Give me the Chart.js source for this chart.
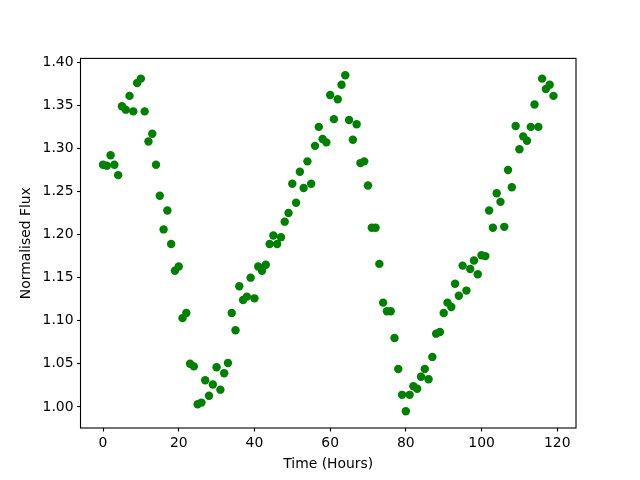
<!DOCTYPE html>
<html>
<head>
<meta charset="utf-8">
<script src="https://cdn.jsdelivr.net/npm/chart.js@4/dist/chart.umd.min.js"></script>
<style>
  body { margin: 0; background: #fff; }
  #wrap { width: 640px; height: 480px; }
</style>
</head>
<body>
<div id="wrap"><canvas id="flux" width="640" height="480"></canvas></div>
<script>
// time in hours, one reading per hour
var hours = [];
for (var h = 0; h < 120; h++) hours.push(h);

var flux = [
  1.281, 1.280, 1.292, 1.281, 1.269, 1.349, 1.345, 1.361, 1.343, 1.376,
  1.381, 1.343, 1.308, 1.317, 1.281, 1.245, 1.206, 1.228, 1.189, 1.158,
  1.163, 1.103, 1.109, 1.050, 1.047, 1.003, 1.005, 1.031, 1.013, 1.026,
  1.046, 1.020, 1.039, 1.051, 1.109, 1.089, 1.140, 1.124, 1.128, 1.150,
  1.126, 1.163, 1.158, 1.165, 1.189, 1.199, 1.189, 1.197, 1.215, 1.225,
  1.259, 1.237, 1.273, 1.254, 1.285, 1.259, 1.303, 1.325, 1.311, 1.307,
  1.362, 1.334, 1.357, 1.374, 1.385, 1.333, 1.310, 1.328, 1.283, 1.285,
  1.257, 1.208, 1.208, 1.166, 1.121, 1.111, 1.111, 1.080, 1.044, 1.014,
  0.995, 1.014, 1.024, 1.021, 1.035, 1.044, 1.032, 1.058, 1.085, 1.087,
  1.109, 1.121, 1.116, 1.143, 1.129, 1.164, 1.135, 1.160, 1.170, 1.154,
  1.176, 1.175, 1.228, 1.208, 1.248, 1.238, 1.209, 1.275, 1.255, 1.326,
  1.299, 1.314, 1.309, 1.325, 1.351, 1.325, 1.381, 1.369, 1.374, 1.361
];

var xTicks = [0, 20, 40, 60, 80, 100, 120];
var yTicks = [1.00, 1.05, 1.10, 1.15, 1.20, 1.25, 1.30, 1.35, 1.40];

var points = hours.map(function (t, i) { return { x: t, y: flux[i] }; });

var font = { family: 'DejaVu Sans', size: 13.9 };

// matplotlib style box around the axes
var frame = {
    id: 'frame',
    afterDatasetsDraw: function (chart) {
        var a = chart.chartArea;
        var c = chart.ctx;
        c.save();
        c.strokeStyle = '#000';
        c.lineWidth = 1.1;
        c.strokeRect(a.left, a.top, a.right - a.left, a.bottom - a.top);
        c.restore();
    }
};

var ctx = document.getElementById('flux').getContext('2d');
var chart = new Chart(ctx, {
    type: 'scatter',
    data: {
        datasets: [{
            data: points,
            backgroundColor: '#008000',
            borderWidth: 0,
            pointRadius: 4.2,
            pointHoverRadius: 4.2
        }]
    },
    options: {
        responsive: false,
        animation: false,
        layout: { padding: { top: 58.4, right: 64, bottom: 0, left: 0 } },
        plugins: { legend: { display: false }, tooltip: { enabled: false } },
        scales: {
            x: {
                type: 'linear',
                min: -5.95,
                max: 124.95,
                afterBuildTicks: function (s) { s.ticks = xTicks.map(function (v) { return { value: v }; }); },
                afterFit: function (s) { s.height = 52; },
                grid: { drawOnChartArea: false, drawTicks: true, tickLength: 3.5, tickColor: '#000', tickWidth: 1.1 },
                border: { display: false },
                ticks: { color: '#000', font: font, padding: 3.5, maxRotation: 0 },
                title: { display: true, text: 'Time (Hours)', color: '#000', font: font, padding: { top: 0, bottom: 7.5 } }
            },
            y: {
                min: 0.9755,
                max: 1.4045,
                afterBuildTicks: function (s) { s.ticks = yTicks.map(function (v) { return { value: v }; }); },
                afterFit: function (s) { s.width = 80.5; },
                grid: { drawOnChartArea: false, drawTicks: true, tickLength: 3.5, tickColor: '#000', tickWidth: 1.1 },
                border: { display: false },
                ticks: {
                    color: '#000', font: font, padding: 3.5,
                    callback: function (v) { return v.toFixed(2); }
                },
                title: { display: true, text: 'Normalised Flux', color: '#000', font: font, padding: { top: 18.5, bottom: 0 } }
            }
        }
    },
    plugins: [frame]
});
</script>
</body>
</html>
